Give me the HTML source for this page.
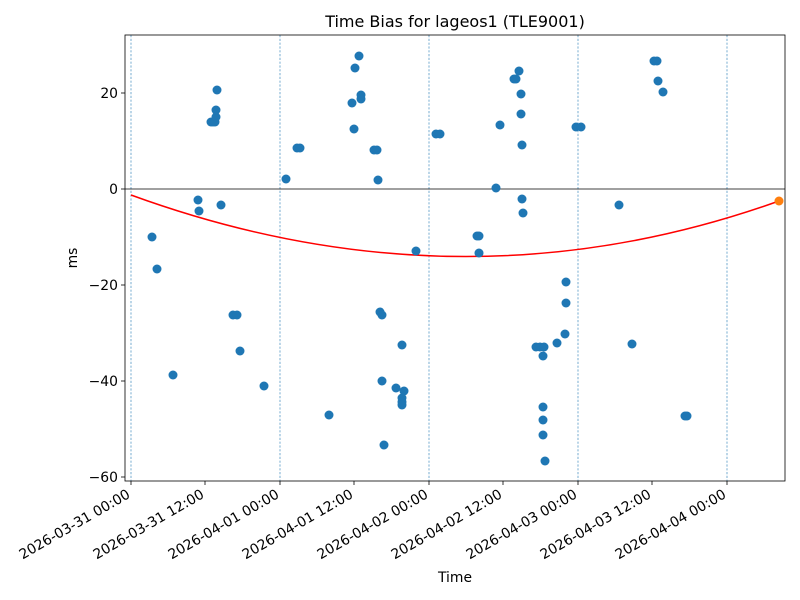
<!DOCTYPE html>
<html><head><meta charset="utf-8"><style>
body{margin:0;background:#fff}
svg{display:block;font-family:"DejaVu Sans","Liberation Sans",sans-serif}
</style></head><body>
<svg width="800" height="600" viewBox="0 0 800 600" xmlns="http://www.w3.org/2000/svg">
<rect width="800" height="600" fill="#fff"/>
<text x="455" y="27" font-size="16" text-anchor="middle">Time Bias for lageos1 (TLE9001)</text>
<g stroke="#1f77b4" stroke-width="0.6" stroke-dasharray="2.2,1.6">
<line x1="131" y1="35" x2="131" y2="481"/><line x1="280" y1="35" x2="280" y2="481"/>
<line x1="429" y1="35" x2="429" y2="481"/><line x1="578" y1="35" x2="578" y2="481"/>
<line x1="727" y1="35" x2="727" y2="481"/>
</g>
<line x1="125" y1="189" x2="785" y2="189" stroke="#000" stroke-width="0.8"/>
<path d="M131,195 Q460,315 779,201" fill="none" stroke="red" stroke-width="1.5"/>
<circle cx="779" cy="201" r="4.5" fill="#ff7f0e"/>
<rect x="125" y="35" width="660" height="446" fill="none" stroke="#000" stroke-width="0.8"/>
<g stroke="#000" stroke-width="0.8">
<line x1="125" y1="93" x2="121" y2="93"/><line x1="125" y1="189" x2="121" y2="189"/>
<line x1="125" y1="285" x2="121" y2="285"/><line x1="125" y1="381" x2="121" y2="381"/>
<line x1="125" y1="477" x2="121" y2="477"/>
<line x1="131" y1="481" x2="131" y2="485"/><line x1="205" y1="481" x2="205" y2="485"/>
<line x1="280" y1="481" x2="280" y2="485"/><line x1="354" y1="481" x2="354" y2="485"/>
<line x1="429" y1="481" x2="429" y2="485"/><line x1="503" y1="481" x2="503" y2="485"/>
<line x1="578" y1="481" x2="578" y2="485"/><line x1="652" y1="481" x2="652" y2="485"/>
<line x1="727" y1="481" x2="727" y2="485"/>
</g>
<g font-size="13.9" text-anchor="end">
<text x="118" y="98">20</text><text x="118" y="194">0</text>
<text x="118" y="290">−20</text><text x="118" y="386">−40</text><text x="118" y="482">−60</text>
</g>
<g font-size="13.9" text-anchor="end">
<text transform="translate(131,497) rotate(-30)">2026-03-31 00:00</text>
<text transform="translate(205,497) rotate(-30)">2026-03-31 12:00</text>
<text transform="translate(280,497) rotate(-30)">2026-04-01 00:00</text>
<text transform="translate(354,497) rotate(-30)">2026-04-01 12:00</text>
<text transform="translate(429,497) rotate(-30)">2026-04-02 00:00</text>
<text transform="translate(503,497) rotate(-30)">2026-04-02 12:00</text>
<text transform="translate(578,497) rotate(-30)">2026-04-03 00:00</text>
<text transform="translate(652,497) rotate(-30)">2026-04-03 12:00</text>
<text transform="translate(727,497) rotate(-30)">2026-04-04 00:00</text>
</g>
<text x="455" y="582" font-size="13.9" text-anchor="middle">Time</text>
<text transform="translate(77,258) rotate(-90)" font-size="13.9" text-anchor="middle">ms</text>
<g fill="#1f77b4">
<circle cx="152" cy="237" r="4.5"/><circle cx="157" cy="269" r="4.5"/><circle cx="173" cy="375" r="4.5"/>
<circle cx="198" cy="200" r="4.5"/><circle cx="199" cy="211" r="4.5"/><circle cx="211" cy="122" r="4.5"/>
<circle cx="213" cy="122" r="4.5"/><circle cx="215" cy="122" r="4.5"/><circle cx="216" cy="117" r="4.5"/>
<circle cx="216" cy="110" r="4.5"/><circle cx="217" cy="90" r="4.5"/><circle cx="221" cy="205" r="4.5"/>
<circle cx="233" cy="315" r="4.5"/><circle cx="237" cy="315" r="4.5"/><circle cx="240" cy="351" r="4.5"/>
<circle cx="264" cy="386" r="4.5"/><circle cx="286" cy="179" r="4.5"/><circle cx="297" cy="148" r="4.5"/>
<circle cx="300" cy="148" r="4.5"/><circle cx="329" cy="415" r="4.5"/><circle cx="352" cy="103" r="4.5"/>
<circle cx="354" cy="129" r="4.5"/><circle cx="355" cy="68" r="4.5"/><circle cx="359" cy="56" r="4.5"/>
<circle cx="361" cy="95" r="4.5"/><circle cx="361" cy="99" r="4.5"/><circle cx="374" cy="150" r="4.5"/>
<circle cx="377" cy="150" r="4.5"/><circle cx="378" cy="180" r="4.5"/><circle cx="380" cy="312" r="4.5"/>
<circle cx="382" cy="315" r="4.5"/><circle cx="382" cy="381" r="4.5"/><circle cx="384" cy="445" r="4.5"/>
<circle cx="396" cy="388" r="4.5"/><circle cx="402" cy="345" r="4.5"/><circle cx="402" cy="398" r="4.5"/>
<circle cx="402" cy="402" r="4.5"/><circle cx="402" cy="405" r="4.5"/><circle cx="404" cy="391" r="4.5"/>
<circle cx="416" cy="251" r="4.5"/><circle cx="436" cy="134" r="4.5"/><circle cx="440" cy="134" r="4.5"/>
<circle cx="477" cy="236" r="4.5"/><circle cx="479" cy="236" r="4.5"/><circle cx="479" cy="253" r="4.5"/>
<circle cx="496" cy="188" r="4.5"/><circle cx="500" cy="125" r="4.5"/><circle cx="514" cy="79" r="4.5"/>
<circle cx="516" cy="79" r="4.5"/><circle cx="519" cy="71" r="4.5"/><circle cx="521" cy="94" r="4.5"/>
<circle cx="521" cy="114" r="4.5"/><circle cx="522" cy="145" r="4.5"/><circle cx="522" cy="199" r="4.5"/>
<circle cx="523" cy="213" r="4.5"/><circle cx="536" cy="347" r="4.5"/><circle cx="540" cy="347" r="4.5"/>
<circle cx="544" cy="347" r="4.5"/><circle cx="543" cy="356" r="4.5"/><circle cx="543" cy="407" r="4.5"/>
<circle cx="543" cy="420" r="4.5"/><circle cx="543" cy="435" r="4.5"/><circle cx="545" cy="461" r="4.5"/>
<circle cx="557" cy="343" r="4.5"/><circle cx="565" cy="334" r="4.5"/><circle cx="566" cy="282" r="4.5"/>
<circle cx="566" cy="303" r="4.5"/><circle cx="576" cy="127" r="4.5"/><circle cx="581" cy="127" r="4.5"/>
<circle cx="619" cy="205" r="4.5"/><circle cx="632" cy="344" r="4.5"/><circle cx="654" cy="61" r="4.5"/>
<circle cx="657" cy="61" r="4.5"/><circle cx="658" cy="81" r="4.5"/><circle cx="663" cy="92" r="4.5"/>
<circle cx="685" cy="416" r="4.5"/><circle cx="687" cy="416" r="4.5"/>
</g>
</svg>
</body></html>
